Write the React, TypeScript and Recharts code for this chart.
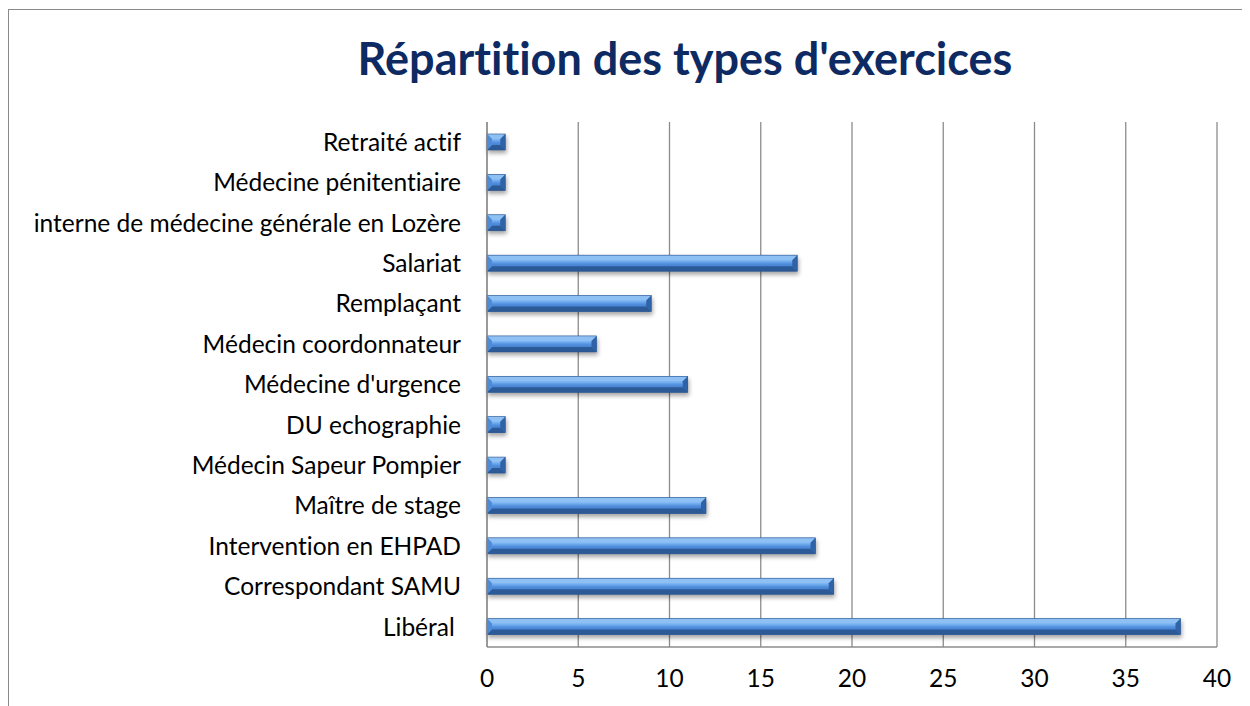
import React from "react";
import { BarChart, Bar, XAxis, YAxis, CartesianGrid } from "recharts";

const categories = [
  "Retraité actif",
  "Médecine pénitentiaire",
  "interne de médecine générale en Lozère",
  "Salariat",
  "Remplaçant",
  "Médecin coordonnateur",
  "Médecine d'urgence",
  "DU echographie",
  "Médecin Sapeur Pompier",
  "Maître de stage",
  "Intervention en EHPAD",
  "Correspondant SAMU",
  "Libéral\u00a0",
];
const counts = [1, 1, 1, 17, 9, 6, 11, 1, 1, 12, 18, 19, 38];
const xTicks = [0, 5, 10, 15, 20, 25, 30, 35, 40];

const data = categories.map((name, i) => ({ name, value: counts[i] }));

const FONT = "Lato, 'Noto Sans', sans-serif";
const tickStyle = {
  fill: "#000",
  fontSize: 24.5,
  fontFamily: FONT,
  style: { fontVariantLigatures: "none" },
};

// bevelled bar like the Office "3D" style
function BevelBar(props: any) {
  const { x, y, width, height } = props;
  if (!width || width <= 0) return null;
  const w = width;
  const h = height;
  const b = Math.min(5, h / 3, w / 2);
  return (
    <g style={{ filter: "drop-shadow(1px 3px 2px rgba(0,0,0,0.35))" }}>
      <defs>
        <linearGradient id="barMid" x1="0" y1="0" x2="0" y2="1">
          <stop offset="0%" stopColor="#5b9be6" />
          <stop offset="35%" stopColor="#78b3f2" />
          <stop offset="55%" stopColor="#4f8cdb" />
          <stop offset="100%" stopColor="#3a72c0" />
        </linearGradient>
      </defs>
      <rect x={x} y={y} width={w} height={h} fill="url(#barMid)" />
      <polygon
        points={`${x},${y} ${x + w},${y} ${x + w - b},${y + b} ${x + b},${y + b}`}
        fill="#8fc0f4"
      />
      <polygon
        points={`${x},${y + h} ${x + w},${y + h} ${x + w - b},${y + h - b} ${x + b},${y + h - b}`}
        fill="#2b5a97"
      />
      <polygon
        points={`${x},${y} ${x + b},${y + b} ${x + b},${y + h - b} ${x},${y + h}`}
        fill="#4f8ad6"
      />
      <polygon
        points={`${x + w},${y} ${x + w - b},${y + b} ${x + w - b},${y + h - b} ${x + w},${y + h}`}
        fill="#2f62a6"
      />
      <rect
        x={x}
        y={y}
        width={w}
        height={h}
        fill="none"
        stroke="#2a5590"
        strokeWidth={0.6}
      />
    </g>
  );
}

export default function App() {
  return (
    <div
      style={{
        position: "relative",
        width: 1242,
        height: 698,
        overflow: "hidden",
        background: "#fff",
      }}
    >
      <div
        style={{
          position: "absolute",
          top: 1,
          left: 0,
          width: 3000,
          height: 3000,
          borderTop: "1.5px solid #8a8a8a",
          borderLeft: "1.5px solid #8a8a8a",
        }}
      />
      <div
        style={{
          position: "absolute",
          top: 23,
          left: 0,
          width: 1354,
          textAlign: "center",
          fontFamily: FONT,
          fontWeight: 700,
          fontSize: 45,
          color: "#0e2a63",
          fontVariantLigatures: "none",
        }}
      >
        Répartition des types d'exercices
      </div>
      <div style={{ position: "absolute", top: 0, left: 0 }}>
        <BarChart
          width={1242}
          height={698}
          data={data}
          layout="vertical"
          margin={{ top: 114, right: 33, left: 0, bottom: 0 }}
          barCategoryGap={0}
        >
          <CartesianGrid
            horizontal={false}
            stroke="#8c8c8c"
            strokeWidth={1.3}
          />
          <XAxis
            type="number"
            domain={[0, 40]}
            ticks={xTicks}
            height={59}
            tickLine={false}
            tickSize={0}
            tickMargin={23}
            axisLine={{ stroke: "#8c8c8c", strokeWidth: 1.3 }}
            tick={tickStyle}
          />
          <YAxis
            type="category"
            dataKey="name"
            width={479}
            tickLine={false}
            tickSize={0}
            tickMargin={26}
            interval={0}
            axisLine={{ stroke: "#8c8c8c", strokeWidth: 1.3 }}
            tick={tickStyle}
          />
          <Bar
            dataKey="value"
            barSize={16}
            shape={<BevelBar />}
            isAnimationActive={false}
          />
        </BarChart>
      </div>
    </div>
  );
}
